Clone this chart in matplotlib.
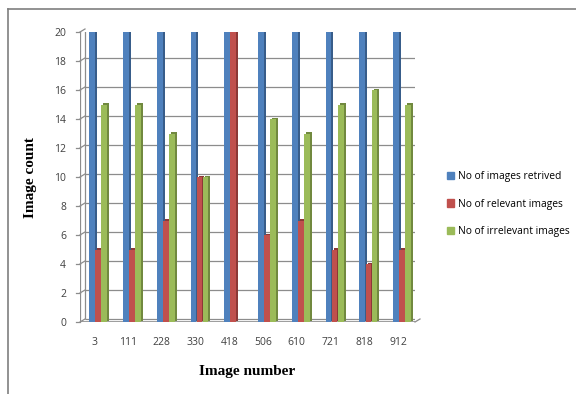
import matplotlib.pyplot as plt
import matplotlib.transforms as mtransforms
from matplotlib.lines import Line2D
import numpy as np

# image ids and counts per query image
images = ['3', '111', '228', '330', '418', '506', '610', '721', '818', '912']
retrieved = [20, 20, 20, 20, 20, 20, 20, 20, 20, 20]
relevant = [5, 5, 7, 10, 20, 6, 7, 5, 4, 5]
irrelevant = [15, 15, 13, 10, 0, 14, 13, 15, 16, 15]

series = [
    ('No of images retrived', retrieved, '#4F81BD', '#385D8A'),
    ('No of relevant images', relevant, '#C0504D', '#8C3836'),
    ('No of irrelevant images', irrelevant, '#9BBB59', '#71893F'),
]
offsets = [-0.06, 0.12, 0.30]
width = 0.17
grid_col = '#8C8C8C'
tick_font = {'family': 'Open Sans', 'size': 7.5}

fig = plt.figure(figsize=(5.76, 3.94), dpi=100)
ax = fig.add_axes([80 / 576, 72 / 394, 335 / 576, 290 / 394])

x = np.arange(len(images))

# little 3d look: wall/floor drawn a few pixels up and to the right
depth = mtransforms.ScaledTranslation(5 / 100, 3 / 100, fig.dpi_scale_trans)
side = mtransforms.ScaledTranslation(2 / 100, 1.5 / 100, fig.dpi_scale_trans)
wall = ax.transData + depth

ticks = np.arange(0, 21, 2)
ax.hlines(ticks, -0.42, 9.5, colors=grid_col, linewidth=0.9,
          transform=wall, zorder=0)
ax.vlines(-0.42, 0, 20, colors=grid_col, linewidth=0.9, transform=wall, zorder=0)
# diagonal ticks between front axis and back wall
for t in ticks:
    ax.add_line(Line2D([-0.42 - 0.12, -0.42], [t, t], color=grid_col,
                       linewidth=0.9, zorder=0, clip_on=False))
    ax.add_line(Line2D([-0.42, -0.42 + 0.148], [t, t + 0.207], color=grid_col,
                       linewidth=0.9, zorder=0, clip_on=False))
ax.vlines(-0.42, 0, 20, colors=grid_col, linewidth=0.9, zorder=1)
ax.hlines(0, -0.42, 9.5, colors=grid_col, linewidth=1.2, zorder=1)
ax.add_line(Line2D([9.5, 9.5 + 0.148], [0, 0.207], color=grid_col,
                   linewidth=0.9, zorder=1, clip_on=False))

for (label, vals, color, dark), off in zip(series, offsets):
    ax.bar(x + off, vals, width, color=dark, transform=ax.transData + side,
           zorder=2, linewidth=0)
    ax.bar(x + off, vals, width, color=color, zorder=3, linewidth=0, label=label)

ax.set_xlim(-0.42, 9.5)
ax.set_ylim(0, 20)
ax.set_xticks(x)
ax.set_xticklabels(images)
ax.set_yticks(ticks)
for s in ax.spines.values():
    s.set_visible(False)
ax.tick_params(axis='both', length=0, colors='#404040')
ax.tick_params(axis='y', pad=10)
ax.tick_params(axis='x', pad=11)
for lab in ax.get_xticklabels() + ax.get_yticklabels():
    lab.set_fontproperties(tick_font)

ax.set_ylabel('Image count', family='Liberation Serif', fontweight='bold',
              fontsize=11, labelpad=12)
ax.set_xlabel('Image number', family='Liberation Serif', fontweight='bold',
              fontsize=11, labelpad=12)

handles = [plt.Rectangle((0, 0), 1, 1, color=c) for _, _, c, _ in series]
fig.legend(handles, [s[0] for s in series], loc='center left',
           bbox_to_anchor=(438 / 576, 1 - 204 / 394), frameon=False,
           prop={'family': 'Open Sans', 'size': 7.4},
           handlelength=0.7, handleheight=0.7, handletextpad=0.3,
           labelspacing=1.6)

# outer frame lines (top and left)
fig.add_artist(Line2D([8 / 576, 1], [1 - 9 / 394, 1 - 9 / 394],
                      transform=fig.transFigure, color='#7F7F7F', linewidth=1.2))
fig.add_artist(Line2D([8 / 576, 8 / 576], [0, 1 - 9 / 394],
                      transform=fig.transFigure, color='#7F7F7F', linewidth=1.2))

fig.savefig('out.png', dpi=100)
